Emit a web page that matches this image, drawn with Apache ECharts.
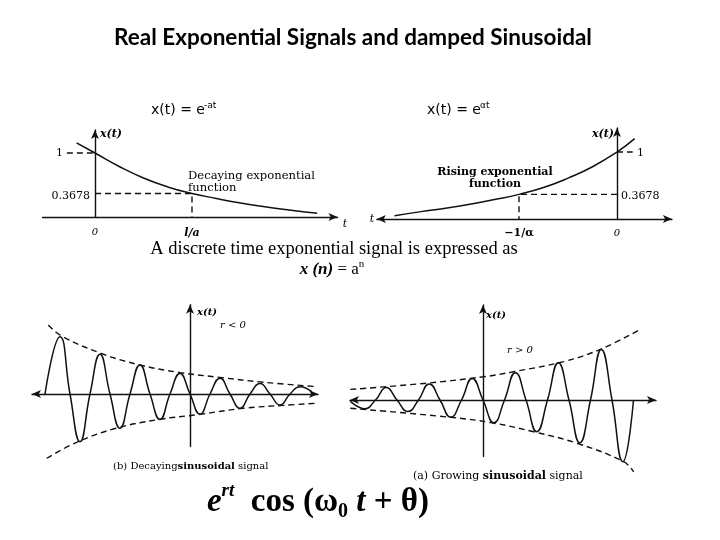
<!DOCTYPE html>
<html><head><meta charset="utf-8">
<script src="https://cdn.jsdelivr.net/npm/echarts@6/dist/echarts.min.js"></script>
<style>html,body{margin:0;padding:0;background:#fff}#c{width:720px;height:540px}</style>
</head><body><div id="c"></div>
<script>
// ---- Panel 1: decaying exponential x(t)=e^-at (t in units of 1/a) ----
const decayT = [-0.19, 0, 0.25, 0.5, 0.75, 1, 1.25, 1.5, 1.75, 2, 2.29];
const decayX = [1.16, 1, 0.79, 0.61, 0.47, 0.3678, 0.29, 0.22, 0.16, 0.11, 0.06];
// ---- Panel 2: rising exponential x(t)=e^at ----
const riseT = [-2.27, -2, -1.75, -1.5, -1.25, -1, -0.75, -0.5, -0.25, 0, 0.18];
const riseX = [0.05, 0.11, 0.16, 0.22, 0.29, 0.3678, 0.47, 0.61, 0.78, 1, 1.2];
// reference markers
const markLevels = [1, 0.3678];
// ---- Panel 3: decaying sinusoid (r<0) ----
const wave3T = [-14.5,-13,-12,-11,-10,-9,-8,-7,-6,-5,-4,-3,-2,-1,0,1,2,3,4,5,6,7,8,9,10,11,12.17];
const wave3X = [0,2.73,0,-2.27,0,1.89,0,-1.63,0,1.38,0,-1.21,0,0.98,0,-0.97,0,0.75,0,-0.68,0,0.5,0,-0.52,0,0.35,0.11];
const env3UpT = [-14.17,-12.9,-8.93,-5.0,-1.0,3.0,7.33,12.67];
const env3UpX = [3.29,2.78,1.94,1.38,1.02,0.79,0.56,0.35];
const env3LoT = [-14.33,-11.33,-7.4,-3.07,0.83,5.33,9.33,12.67];
const env3LoX = [-3.06,-2.3,-1.63,-1.21,-0.98,-0.68,-0.54,-0.44];
// ---- Panel 4: growing sinusoid (r>0) ----
const wave4T = [-13.27,-11.83,-10.75,-9.68,-8.6,-7.53,-6.45,-5.38,-4.3,-3.23,-2.15,-1.08,0,1.08,2.15,3.23,4.3,5.38,6.45,7.53,8.6,9.68,10.75,11.83,12.9,13.98,15.05];
const wave4X = [-0.05,-0.38,0,0.54,0,-0.5,0,0.7,0,-0.75,0,0.94,0,-0.99,0,1.19,0,-1.38,0,1.62,0,-1.86,0,2.2,0,-2.68,0];
const env4UpT = [-13.27,-5.93,0.07,3.07,8.07,11.73,15.73];
const env4UpX = [0.46,0.72,1.01,1.23,1.67,2.2,3.07];
const env4LoT = [-13.27,-3.27,0.9,5.07,9.4,14.07,15.07];
const env4LoX = [-0.36,-0.75,-0.99,-1.38,-1.88,-2.68,-3.12];
// tick labels
const p1Ticks = ['1', '0.3678', '0', 'l/a', 't'];
const p2Ticks = ['1', '0.3678', '0', '\u22121/\u03b1', 't'];

const BLACK = '#111';
const grids = [
  {left: 42.6, top: 130, width: 294.9, height: 87},
  {left: 376.9, top: 127.9, width: 295, height: 91.1},
  {left: 32, top: 304.75, width: 286, height: 141.75},
  {left: 350, top: 305, width: 306, height: 151.6}
];
const xr = [[-0.54, 2.5], [-2.45, 0.56], [-15.8, 12.8], [-13.3, 17.3]];
const yr = [[0, 1.36], [0, 1.36], [-2.5, 4.25], [-2.46, 4.13]];
const xSym = [['none','arrow'], ['arrow','arrow'], ['arrow','arrow'], ['arrow','arrow']];

function axis(i, r, sym) {
  return {gridIndex: i, type: 'value', min: r[0], max: r[1],
    axisLine: {show: true, onZero: true, symbol: sym, symbolSize: [6, 9],
      lineStyle: {color: BLACK, width: 1.4}},
    axisTick: {show: false}, axisLabel: {show: false}, splitLine: {show: false}};
}
function pairs(xs, ys) { return xs.map((x, k) => [x, ys[k]]); }
function line(i, data, opt) {
  return Object.assign({type: 'line', xAxisIndex: i, yAxisIndex: i, data: data,
    showSymbol: false, symbol: 'none', clip: false, silent: true, animation: false,
    lineStyle: {color: BLACK, width: 1.5}}, opt || {});
}
const dash = {color: BLACK, width: 1.4, type: [6, 4]};

const series = [
  line(0, pairs(decayT, decayX), {smooth: 0.5}),
  line(0, [[-0.29, markLevels[0]], [0, markLevels[0]]], {lineStyle: dash}),
  line(0, [[0, markLevels[1]], [1, markLevels[1]], [1, 0]], {lineStyle: dash}),
  line(1, pairs(riseT, riseX), {smooth: 0.5}),
  line(1, [[0, markLevels[0]], [0.16, markLevels[0]]], {lineStyle: dash}),
  line(1, [[0, markLevels[1]], [-1, markLevels[1]], [-1, 0]], {lineStyle: dash}),
  line(2, pairs(wave3T, wave3X), {smooth: 0.5}),
  line(2, pairs(env3UpT, env3UpX), {smooth: 0.4, lineStyle: dash}),
  line(2, pairs(env3LoT, env3LoX), {smooth: 0.4, lineStyle: dash}),
  line(3, pairs(wave4T, wave4X), {smooth: 0.5}),
  line(3, pairs(env4UpT, env4UpX), {smooth: 0.4, lineStyle: dash}),
  line(3, pairs(env4LoT, env4LoX), {smooth: 0.4, lineStyle: dash})
];

function txt(x, y, text, style) {
  return {type: 'text', x: x, y: y, silent: true,
    style: Object.assign({text: text, fill: '#000', verticalAlign: 'middle'}, style)};
}
const serif = 'DejaVu Serif';
const graphic = [
  txt(353, 38, 'Real Exponential Signals and damped Sinusoidal', {font: 'bold 22.5px Lato', align: 'center'}),
  txt(151, 110, 'x(t) = e', {font: '14px "DejaVu Sans"'}),
  txt(204, 106, '-at', {font: '9px "DejaVu Sans"'}),
  txt(427, 110, 'x(t) = e', {font: '14px "DejaVu Sans"'}),
  txt(480, 106, '\u03b1t', {font: '9px "DejaVu Sans"'}),
  // panel 1
  txt(100, 134, 'x(t)', {font: 'bold italic 11px ' + serif}),
  txt(63, 153, p1Ticks[0], {font: '11px ' + serif, align: 'right'}),
  txt(90, 196, p1Ticks[1], {font: '11px ' + serif, align: 'right'}),
  txt(95, 232, p1Ticks[2], {font: 'italic 10px ' + serif, align: 'center'}),
  txt(192, 233, p1Ticks[3], {font: 'bold italic 11px ' + serif, align: 'center'}),
  txt(345, 224, p1Ticks[4], {font: 'italic 11px ' + serif, align: 'center'}),
  txt(188, 176, 'Decaying exponential', {font: '11.6px ' + serif}),
  txt(188, 188, 'function', {font: '11.6px ' + serif}),
  // panel 2
  txt(614, 134, 'x(t)', {font: 'bold italic 11px ' + serif, align: 'right'}),
  txt(637, 153, p2Ticks[0], {font: '11px ' + serif}),
  txt(621, 196, p2Ticks[1], {font: '11px ' + serif}),
  txt(617, 233, p2Ticks[2], {font: 'italic 10px ' + serif, align: 'center'}),
  txt(519, 233, p2Ticks[3], {font: 'bold 11px ' + serif, align: 'center'}),
  txt(372, 219, p2Ticks[4], {font: 'italic 11px ' + serif, align: 'center'}),
  txt(495, 172, 'Rising exponential', {font: 'bold 11px ' + serif, align: 'center'}),
  txt(495, 184, 'function', {font: 'bold 11px ' + serif, align: 'center'}),
  // middle text
  txt(334, 249, 'A discrete time exponential signal is expressed as', {font: '18.5px "Liberation Serif"', align: 'center'}),
  {type: 'text', x: 332, y: 270, silent: true, style: {
    text: '{i|x (n)}{r| = a}{s|n}', align: 'center', verticalAlign: 'middle',
    rich: {i: {font: 'bold italic 17px "Liberation Serif"', lineHeight: 22, verticalAlign: 'middle'},
           r: {font: '17px "Liberation Serif"', lineHeight: 22, verticalAlign: 'middle'},
           s: {font: '11px "Liberation Serif"', lineHeight: 22, verticalAlign: 'top'}}}},
  // panel 3
  txt(197, 312, 'x(t)', {font: 'bold italic 10px ' + serif}),
  txt(220, 325, 'r < 0', {font: 'italic 10px ' + serif}),
  {type: 'text', x: 113, y: 466, silent: true, style: {
    text: '{a|(b) Decaying}{b|sinusoidal}{a| signal}', verticalAlign: 'middle',
    rich: {a: {font: '10px ' + serif}, b: {font: 'bold 10px ' + serif}}}},
  // panel 4
  txt(486, 315, 'x(t)', {font: 'bold italic 10px ' + serif}),
  txt(507, 350, 'r > 0', {font: 'italic 10px ' + serif}),
  {type: 'text', x: 413, y: 476, silent: true, style: {
    text: '{a|(a) Growing }{b|sinusoidal}{a| signal}', verticalAlign: 'middle',
    rich: {a: {font: '11px ' + serif}, b: {font: 'bold 11px ' + serif}}}},
  // bottom formula
  {type: 'text', x: 318, y: 502, silent: true, style: {
    text: '{e|e}{s|rt}{c|  cos (\u03c9}{d|0}{c| }{e|t}{c| + \u03b8)}', align: 'center', verticalAlign: 'middle',
    rich: {e: {font: 'bold italic 33px "Liberation Serif"', lineHeight: 40, verticalAlign: 'middle'},
           s: {font: 'bold italic 19px "Liberation Serif"', lineHeight: 40, verticalAlign: 'top'},
           c: {font: 'bold 33px "Liberation Serif"', lineHeight: 40, verticalAlign: 'middle'},
           d: {font: 'bold 20px "Liberation Serif"', lineHeight: 40, verticalAlign: 'bottom'}}}}
];

const chart = echarts.init(document.getElementById('c'), null, {renderer: 'canvas'});
chart.setOption({
  animation: false,
  backgroundColor: '#fff',
  grid: grids,
  xAxis: [0,1,2,3].map(i => axis(i, xr[i], xSym[i])),
  yAxis: [0,1,2,3].map(i => axis(i, yr[i], ['none','arrow'])),
  series: series,
  graphic: graphic
});
</script></body></html>
